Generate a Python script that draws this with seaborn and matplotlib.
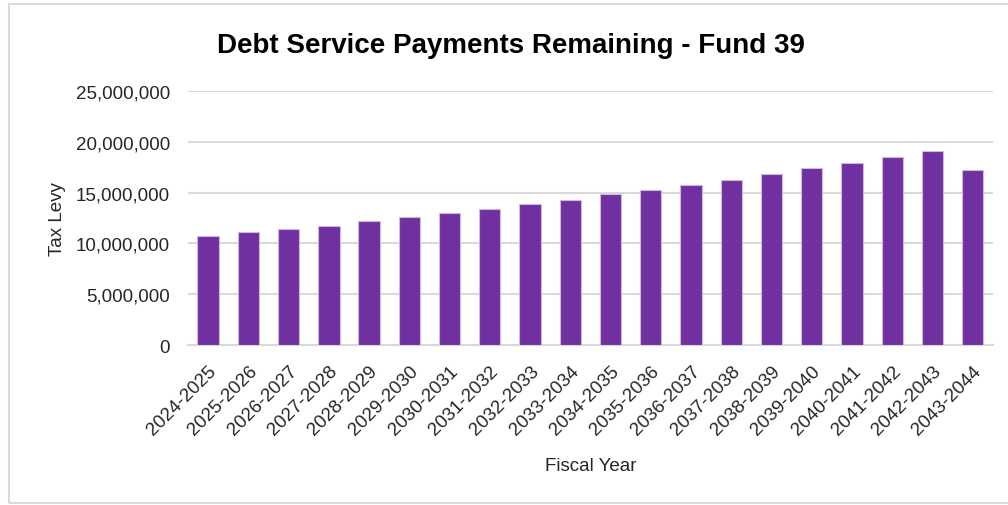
import matplotlib
matplotlib.use("Agg")
import matplotlib.pyplot as plt
import matplotlib.ticker as mticker
from matplotlib.patches import Rectangle
import seaborn as sns
import pandas as pd

fiscal_years = ["2024-2025", "2025-2026", "2026-2027", "2027-2028", "2028-2029",
                "2029-2030", "2030-2031", "2031-2032", "2032-2033", "2033-2034",
                "2034-2035", "2035-2036", "2036-2037", "2037-2038", "2038-2039",
                "2039-2040", "2040-2041", "2041-2042", "2042-2043", "2043-2044"]
tax_levy = [10770000, 11100000, 11420000, 11750000, 12180000,
            12630000, 12970000, 13390000, 13850000, 14270000,
            14830000, 15260000, 15720000, 16270000, 16830000,
            17390000, 17910000, 18470000, 19120000, 17250000]
y_ticks = [0, 5000000, 10000000, 15000000, 20000000, 25000000]

df = pd.DataFrame({"Fiscal Year": fiscal_years, "Tax Levy": tax_levy})

sns.set_theme(style="white")
plt.rcParams["font.family"] = ["Liberation Sans", "DejaVu Sans"]

fig = plt.figure(figsize=(10.08, 5.06), dpi=100)
fig.patch.set_facecolor("white")
ax = fig.add_axes([0.1865, 0.3156, 0.7985, 0.503])

sns.barplot(data=df, x="Fiscal Year", y="Tax Levy", color="#7030A0",
            width=0.53, edgecolor="#cdb8de", linewidth=0.8, saturation=1, ax=ax, zorder=3)

ax.set_ylim(0, 25000000)
ax.set_xlim(-0.5, len(fiscal_years) - 0.5)
ax.set_yticks(y_ticks)
ax.yaxis.set_major_formatter(mticker.FuncFormatter(lambda v, p: f"{int(v):,}"))
ax.grid(axis="y", color="#d9d9d9", linewidth=1.5, zorder=0)
ax.set_axisbelow(True)
for s in ["left", "right", "top"]:
    ax.spines[s].set_visible(False)
ax.spines["bottom"].set_color("#d9d9d9")
ax.spines["bottom"].set_linewidth(1.5)
ax.tick_params(axis="both", length=0, labelsize=13.5, colors="#262626")
ax.tick_params(axis="y", pad=13)
ax.tick_params(axis="x", pad=12)
plt.setp(ax.get_xticklabels(), rotation=45, ha="right", rotation_mode="anchor")

ax.set_xlabel("Fiscal Year", fontsize=13.5, color="#262626", labelpad=14)
ax.set_ylabel("Tax Levy", fontsize=13.5, color="#262626", labelpad=7)

fig.text(0.507, 0.91, "Debt Service Payments Remaining - Fund 39", ha="center", va="center",
         fontsize=20, fontweight="bold", color="#000000")

fig.patches.append(Rectangle((9 / 1008, 2 / 506), 1100 / 1008, 499 / 506,
                             transform=fig.transFigure, fill=False,
                             edgecolor="#d9d9d9", linewidth=1.5))

fig.savefig("out.png", dpi=100)
